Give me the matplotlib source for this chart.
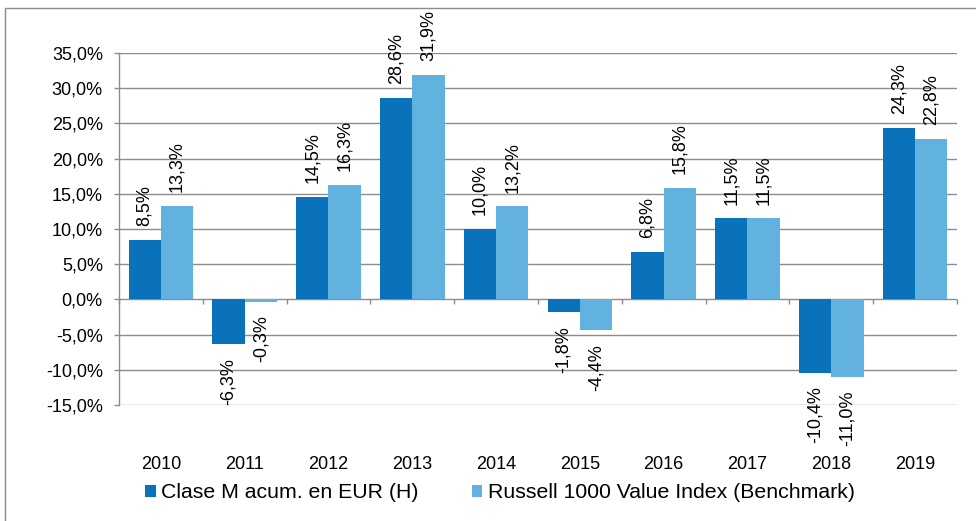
import numpy as np
import matplotlib.pyplot as plt
from matplotlib.patches import Rectangle
from matplotlib.ticker import FuncFormatter
from matplotlib.markers import TICKDOWN

plt.rcParams['font.family'] = ['Liberation Sans', 'DejaVu Sans']

years = ["2010", "2011", "2012", "2013", "2014", "2015", "2016", "2017", "2018", "2019"]
clase_m = [8.5, -6.3, 14.5, 28.6, 10.0, -1.8, 6.8, 11.5, -10.4, 24.3]
russell = [13.3, -0.3, 16.3, 31.9, 13.2, -4.4, 15.8, 11.5, -11.0, 22.8]
series_names = ["Clase M acum. en EUR (H)", "Russell 1000 Value Index (Benchmark)"]

dark = "#0A72BA"
light = "#62B2DF"
grid_c = "#8C8C8C"
fs = 13

fig = plt.figure(figsize=(9.76, 5.21), dpi=100)
ax = fig.add_axes([0.1219, 0.2226, 0.8586, 0.6757])

x = np.arange(len(years))
w = 0.385
b1 = ax.bar(x - w/2, clase_m, w, color=dark, label=series_names[0], zorder=3)
b2 = ax.bar(x + w/2, russell, w, color=light, label=series_names[1], zorder=3)

def fmt(v):
    return ("%.1f%%" % v).replace(".", ",")

for bars, vals in ((b1, clase_m), (b2, russell)):
    for rect, v in zip(bars, vals):
        cx = rect.get_x() + rect.get_width()/2
        if v >= 0:
            ax.annotate(fmt(v), (cx, v), xytext=(0, 10), textcoords="offset points",
                        rotation=90, ha="center", va="bottom", fontsize=fs, zorder=4)
        else:
            ax.annotate(fmt(v), (cx, v), xytext=(0, -10), textcoords="offset points",
                        rotation=90, ha="center", va="top", fontsize=fs, zorder=4)

# small category tick marks hanging under the 0% line
bounds = np.arange(len(years) + 1) - 0.5
ax.plot(bounds, np.zeros_like(bounds), linestyle="none", marker=TICKDOWN,
        markersize=3.5, markeredgewidth=1, color=grid_c, zorder=2, clip_on=False)

ax.set_xlim(-0.5, len(years) - 0.5)
ax.set_ylim(-15, 35)
ax.set_yticks(np.arange(-15, 36, 5))
ax.yaxis.set_major_formatter(FuncFormatter(lambda v, p: fmt(v)))
ax.set_xticks(x)
ax.set_xticklabels(years)
ax.tick_params(axis="x", length=0, pad=36.5, labelsize=fs)
ax.tick_params(axis="y", length=3.6, width=1, color=grid_c, pad=8, labelsize=fs)
ax.yaxis.grid(True, color=grid_c, linewidth=1, zorder=0)
for s in ("top", "right", "bottom"):
    ax.spines[s].set_visible(False)
ax.spines["left"].set_color(grid_c)
ax.spines["left"].set_linewidth(1)

fig.legend(loc="center", bbox_to_anchor=(500/976, 1 - 493/521), ncol=2, frameon=False,
           fontsize=15.3, handlelength=0.5, handleheight=0.5, handletextpad=0.24,
           columnspacing=2.5)

fig.patches.append(Rectangle((5/976, -0.05), 1.0, 1 - 8/521 + 0.05, transform=fig.transFigure,
                             fill=False, edgecolor=grid_c, linewidth=1))

fig.savefig("out.png", dpi=100)
